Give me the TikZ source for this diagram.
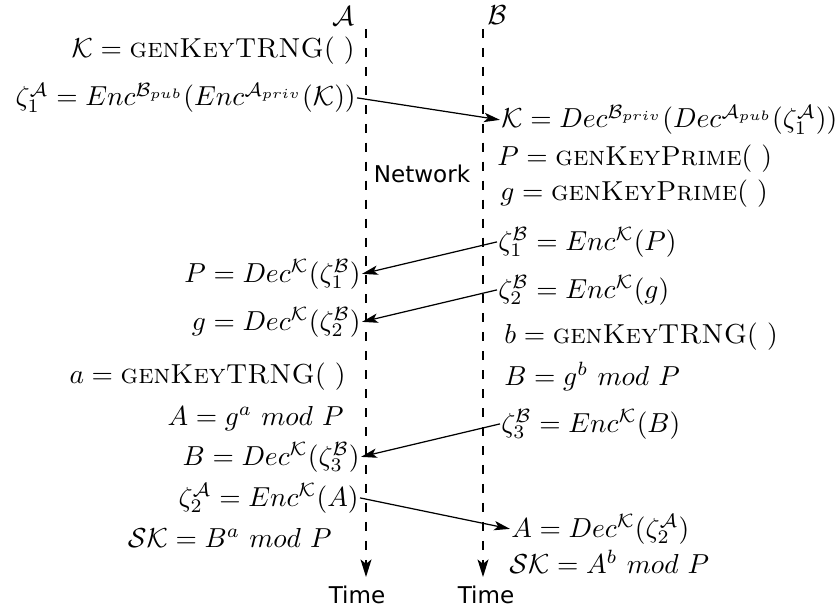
\documentclass[tikz,border=0pt]{standalone}
\usepackage{fontspec}
\newfontfamily\dejavu{DejaVu Sans}
\usetikzlibrary{arrows.meta}
\begin{document}
\begin{tikzpicture}[x=0.364pt,y=-0.364pt,
  lt/.style={anchor=base east,inner sep=0pt,outer sep=0.5pt},
  rt/.style={anchor=base west,inner sep=0pt,outer sep=0.5pt},
  msg/.style={-{Stealth[length=5.8pt,width=3.4pt,inset=1.4pt]},line width=0.45pt},
  timeline/.style={dash pattern=on 3.3pt off 3.6pt,line width=0.5pt,-{Stealth[length=6.4pt,width=4pt,inset=1.6pt]}},
  sans/.style={font=\dejavu\fontsize{8.4}{10}\selectfont,inner sep=0pt}]
\useasboundingbox (0,0) rectangle (839,611);
% titles
\node[anchor=base,inner sep=0pt] (ta) at (343,26) {$\mathcal{A}$};
\node[anchor=base,inner sep=0pt] (tb) at (497,25) {$\mathcal{B}$};
% time lines
\coordinate (topA) at (366,29);
\coordinate (botA) at (366,577);
\coordinate (topB) at (483,29);
\coordinate (botB) at (483,577);
\draw[timeline] (topA) -- (botA);
\draw[timeline] (topB) -- (botB);
\node[sans,anchor=base] (timeA) at (357,603) {Time};
\node[sans,anchor=base] (timeB) at (486,603) {Time};
\node[sans,anchor=base] (net) at (422,183) {Network};
% left column
\node[lt] (l1) at (356,58) {$\mathcal{K} = \textsc{genKeyTRNG}(\ )$};
\node[lt] (l2) at (357,106) {$\zeta_1^{\mathcal{A}} = Enc^{\mathcal{B}_{pub}}(Enc^{\mathcal{A}_{priv}}(\mathcal{K}))$};
\node[lt] (l3) at (362,282) {$P = Dec^{\mathcal{K}}(\zeta_1^{\mathcal{B}})$};
\node[lt] (l4) at (362,330) {$g = Dec^{\mathcal{K}}(\zeta_2^{\mathcal{B}})$};
\node[lt] (l5) at (347,383) {$a = \textsc{genKeyTRNG}(\ )$};
\node[lt] (l6) at (345,425) {$A = g^a\ mod\ P$};
\node[lt] (l7) at (361,465) {$B = Dec^{\mathcal{K}}(\zeta_3^{\mathcal{B}})$};
\node[lt] (l8) at (360,506) {$\zeta_2^{\mathcal{A}} = Enc^{\mathcal{K}}(A)$};
\node[lt] (l9) at (333,547) {$\mathcal{SK} = B^a\ mod\ P$};
% right column
\node[rt] (r1) at (500,128) {$\mathcal{K} = Dec^{\mathcal{B}_{priv}}(Dec^{\mathcal{A}_{pub}}(\zeta_1^{\mathcal{A}}))$};
\node[rt] (r2) at (496,166) {$P = \textsc{genKeyPrime}(\ )$};
\node[rt] (r3) at (499,200) {$g = \textsc{genKeyPrime}(\ )$};
\node[rt] (r4) at (497,250) {$\zeta_1^{\mathcal{B}} = Enc^{\mathcal{K}}(P)$};
\node[rt] (r5) at (497,298) {$\zeta_2^{\mathcal{B}} = Enc^{\mathcal{K}}(g)$};
\node[rt] (r6) at (503,343) {$b = \textsc{genKeyTRNG}(\ )$};
\node[rt] (r7) at (503,385) {$B = g^b\ mod\ P$};
\node[rt] (r8) at (500,432) {$\zeta_3^{\mathcal{B}} = Enc^{\mathcal{K}}(B)$};
\node[rt] (r9) at (510,537) {$A = Dec^{\mathcal{K}}(\zeta_2^{\mathcal{A}})$};
\node[rt] (r10) at (508,573) {$\mathcal{SK} = A^b\ mod\ P$};
% messages
\draw[msg] (l2.east) -- (r1.west);
\draw[msg] (r4.west) -- (l3.east);
\draw[msg] (r5.west) -- (l4.east);
\draw[msg] (r8.west) -- (l7.east);
\draw[msg] (l8.east) -- (r9.west);
\end{tikzpicture}
\end{document}
